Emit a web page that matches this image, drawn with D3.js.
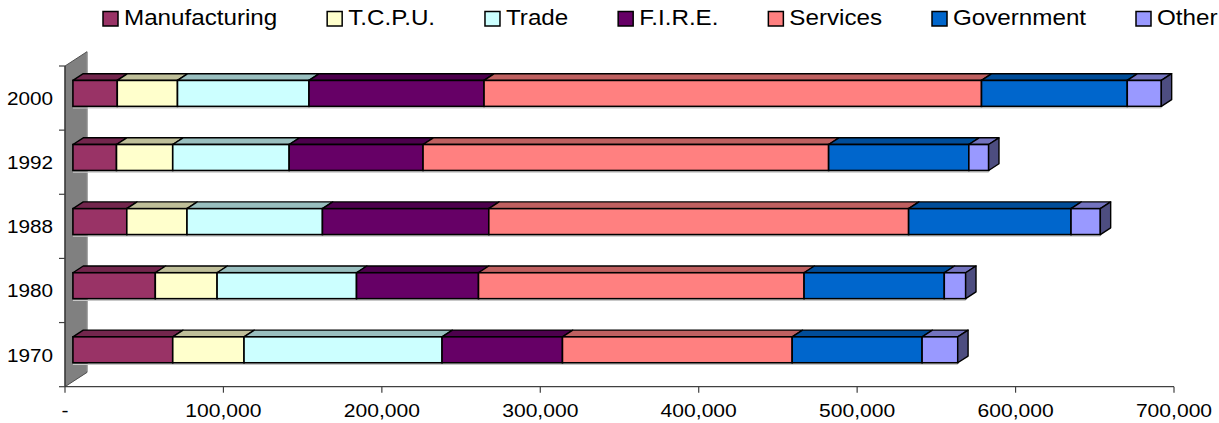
<!DOCTYPE html>
<html>
<head>
<meta charset="utf-8">
<script src="https://cdn.jsdelivr.net/npm/d3@7"></script>
<style>
  body { margin: 0; background: #fff; }
  text { font-family: "Liberation Sans", Arial, sans-serif; fill: #000; }
</style>
</head>
<body>
<script>
// ---- data (employment by sector) ----
var years = ["2000", "1992", "1988", "1980", "1970"];
var sectors = ["Manufacturing", "T.C.P.U.", "Trade", "F.I.R.E.", "Services", "Government", "Other"];
var sectorColors = ["#993366", "#FFFFCC", "#CCFFFF", "#660066", "#FF8080", "#0066CC", "#9999FF"];

// values in the same order as years
var manufacturing = [28000, 27500, 34000, 52000, 63000];
var tcpu          = [38000, 35500, 38000, 39000, 45000];
var trade         = [83000, 73500, 85500, 88000, 125000];
var fire          = [110500, 84500, 105000, 77000, 76000];
var services      = [314000, 256000, 265000, 205500, 145000];
var government    = [92000, 88500, 102500, 88500, 82000];
var other         = [21500, 12500, 18500, 13500, 22500];

var xTickValues = [0, 100000, 200000, 300000, 400000, 500000, 600000, 700000];

var seriesValues = [manufacturing, tcpu, trade, fire, services, government, other];

var rows = years.map(function(yr, i) {
  var r = { year: yr };
  sectors.forEach(function(s, j) { r[s] = seriesValues[j][i]; });
  return r;
});

// ---- setup ----
var W = 1219, H = 423;
var svg = d3.select("body").append("svg")
    .attr("width", W)
    .attr("height", H);

var x = d3.scaleLinear().domain([0, 700000]).range([65, 1174]);
var y = d3.scaleBand().domain(years).range([66.5, 387])
    .paddingInner(0.595).paddingOuter(0.2975);

// oblique 3d depth: full depth of the wall
var depth = { x: 22, y: -14.3 };
var barFront = 0.36, barBack = 0.83;
function proj(px, py, d) { return [px + d * depth.x, py + d * depth.y]; }
function pts(arr) { return arr.map(function(p) { return p.join(","); }).join(" "); }
function shade(c, k) {
  var r = d3.rgb(c);
  return d3.rgb(r.r * k, r.g * k, r.b * k).formatHex();
}
// the original text is a bit wider than Arial, so stretch it sideways
function stretchText(sel, sx) {
  sel.attr("transform", function() {
    var t = d3.select(this);
    return "translate(" + t.attr("data-x") + "," + t.attr("data-y") + ") scale(" + sx + ",1)";
  });
}

var floorY = 386.7, wallTop = 66;

// back wall (category wall)
svg.append("polygon")
    .attr("points", pts([proj(65, wallTop, 0), proj(65, wallTop, 1), proj(65, floorY, 1), proj(65, floorY, 0)]))
    .attr("fill", "#808080")
    .attr("stroke", "#505050")
    .attr("stroke-width", 1);
svg.append("line")
    .attr("x1", proj(65, wallTop, 1)[0]).attr("y1", proj(65, wallTop, 1)[1] + 1)
    .attr("x2", proj(65, floorY, 1)[0]).attr("y2", proj(65, floorY, 1)[1] - 1)
    .attr("stroke", "#a8a8a8").attr("stroke-width", 1);

// value axis line + ticks
svg.append("line")
    .attr("x1", x(0)).attr("x2", x(700000))
    .attr("y1", floorY).attr("y2", floorY)
    .attr("stroke", "#404040").attr("stroke-width", 1.2);

svg.selectAll(".xtick").data(xTickValues).enter().append("line")
    .attr("x1", function(d) { return x(d); }).attr("x2", function(d) { return x(d); })
    .attr("y1", floorY).attr("y2", floorY + 6)
    .attr("stroke", "#404040").attr("stroke-width", 1.2);

svg.selectAll(".xlab").data(xTickValues).enter().append("text")
    .attr("data-x", function(d) { return x(d); })
    .attr("data-y", 416.5)
    .attr("text-anchor", "middle")
    .style("font-size", "18.5px")
    .text(function(d) { return d === 0 ? "-" : d3.format(",")(d); })
    .call(stretchText, 1.14);

// category axis line + ticks on the wall front edge
svg.append("line")
    .attr("x1", 65).attr("x2", 65)
    .attr("y1", wallTop).attr("y2", floorY)
    .attr("stroke", "#333").attr("stroke-width", 1.2);

d3.range(years.length + 1).forEach(function(i) {
  var ty = wallTop + i * (floorY - wallTop) / years.length;
  svg.append("line")
      .attr("x1", 59).attr("x2", 65)
      .attr("y1", ty).attr("y2", ty)
      .attr("stroke", "#404040").attr("stroke-width", 1.2);
});

svg.selectAll(".ylab").data(years).enter().append("text")
    .attr("data-x", 53)
    .attr("data-y", function(d, i) { return wallTop + (i + 0.5) * (floorY - wallTop) / years.length + 7; })
    .attr("text-anchor", "end")
    .style("font-size", "18.5px")
    .text(function(d) { return d; })
    .call(stretchText, 1.12);

// ---- stacked 3d bars ----
var stack = d3.stack().keys(sectors);
var layers = stack(rows);
var bw = y.bandwidth();

var gBars = svg.append("g");
// faint shadow line under each bar
rows.forEach(function(r, i) {
  var yb = y(r.year) + bw + barFront * depth.y;
  var total = layers[layers.length - 1][i][1];
  gBars.append("line")
      .attr("x1", proj(x(0), 0, barFront)[0]).attr("x2", proj(x(total), 0, barFront)[0])
      .attr("y1", yb + 1.6).attr("y2", yb + 1.6)
      .attr("stroke", "#c8c8c8").attr("stroke-width", 1.2);
});

layers.forEach(function(layer, li) {
  var col = sectorColors[li];
  layer.forEach(function(d) {
    var x0 = x(d[0]), x1 = x(d[1]);
    var yt = y(d.data.year), yb = yt + bw;
    var top = [proj(x0, yt, barFront), proj(x1, yt, barFront), proj(x1, yt, barBack), proj(x0, yt, barBack)];
    var f0 = proj(x0, yt, barFront);
    gBars.append("polygon")
        .attr("points", pts(top))
        .attr("fill", shade(col, 0.75))
        .attr("stroke", "#000").attr("stroke-width", 1.4)
        .attr("stroke-linejoin", "round");
    gBars.append("rect")
        .attr("x", f0[0]).attr("y", f0[1])
        .attr("width", x1 - x0).attr("height", bw)
        .attr("fill", col)
        .attr("stroke", "#000").attr("stroke-width", 1.6);
    if (li === layers.length - 1) {
      var side = [proj(x1, yt, barFront), proj(x1, yt, barBack), proj(x1, yb, barBack), proj(x1, yb, barFront)];
      gBars.append("polygon")
          .attr("points", pts(side))
          .attr("fill", shade(col, 0.5))
          .attr("stroke", "#000").attr("stroke-width", 1.4)
          .attr("stroke-linejoin", "round");
    }
  });
});

// ---- legend ----
var legend = svg.append("g");
var legItems = legend.selectAll(".leg").data(sectors).enter().append("g");
var legScale = 1.1, swatchToText = 21;
legItems.append("text")
    .attr("data-x", swatchToText).attr("data-y", 24.5)
    .style("font-size", "22px")
    .text(function(d) { return d; })
    .call(stretchText, legScale);

var widths = [];
legItems.select("text").each(function() { widths.push(this.getComputedTextLength() * legScale); });
var legStart = 103, lastSwatch = 1136;
var sumW = d3.sum(widths.slice(0, sectors.length - 1));
var gap = (lastSwatch - legStart - sumW) / (sectors.length - 1) - swatchToText;
var pos = [], cur = legStart;
widths.forEach(function(w) { pos.push(cur); cur += swatchToText + w + gap; });

legItems.attr("transform", function(d, i) { return "translate(" + pos[i] + ",0)"; });
legItems.append("rect")
    .attr("x", 0).attr("y", 11.5)
    .attr("width", 15).attr("height", 14.5)
    .attr("fill", function(d, i) { return sectorColors[i]; })
    .attr("stroke", "#000").attr("stroke-width", 1.5);
</script>
</body>
</html>
